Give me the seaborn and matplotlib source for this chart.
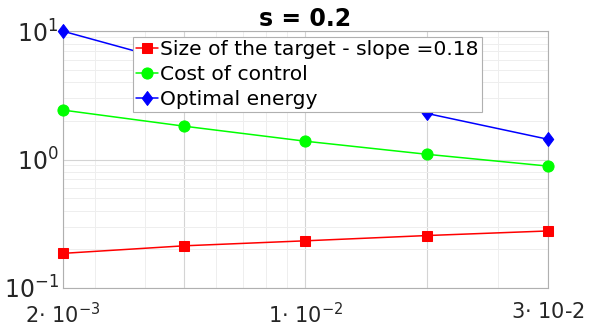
import numpy as np
import pandas as pd
import matplotlib
matplotlib.use('Agg')
import matplotlib.pyplot as plt
import seaborn as sns

# Data
h_values = [2.5e-3, 5e-3, 1e-2, 2e-2, 4e-2]
target_size = [0.186, 0.213, 0.233, 0.256, 0.278]
control_cost = [2.43, 1.82, 1.39, 1.10, 0.89]
optimal_energy = [10.0, 5.5, 3.5, 2.29, 1.44]

series_names = ['Size of the target - slope =0.18', 'Cost of control', 'Optimal energy']
xtick_labels = ['2$\\cdot$ 10$^{-3}$', '', '1$\\cdot$ 10$^{-2}$', '', '3$\\cdot$ 10-2']

sns.set_style('white')
plt.rcParams['font.family'] = ['DejaVu Sans']
plt.rcParams['mathtext.fontset'] = 'dejavusans'

fig = plt.figure(figsize=(6.04, 3.28), dpi=100)
ax = fig.add_axes([0.104, 0.122, 0.803, 0.783])

diamond = [(0, 1), (0.75, 0), (0, -1), (-0.75, 0), (0, 1)]
styles = [
    (target_size, 'red', 's', 6.5),
    (control_cost, '#00ff00', 'o', 8),
    (optimal_energy, 'blue', diamond, 10),
]
for name, (vals, col, mk, ms) in zip(series_names, styles):
    sns.lineplot(x=h_values, y=vals, ax=ax, color=col, marker=mk, markersize=ms,
                 markeredgecolor=col, linewidth=1.1, label=name, clip_on=False, zorder=3)

ax.set_xscale('log')
ax.set_yscale('log')
ax.set_xlim(h_values[0], h_values[-1])
ax.set_ylim(0.1, 10)

ax.set_xticks(h_values)
ax.set_xticklabels(xtick_labels)
ax.set_yticks([0.1, 1, 10])

ax.grid(True, which='major', color='#d4d4d4', linewidth=0.8)
ax.grid(True, which='minor', color='#eeeeee', linewidth=0.7)
ax.set_axisbelow(True)

for sp in ax.spines.values():
    sp.set_color('#b0b0b0')
    sp.set_linewidth(0.8)
ax.tick_params(which='both', direction='in', color='#b0b0b0', labelcolor='#262626')
ax.tick_params(axis='y', which='major', labelsize=17, length=4, pad=3)
ax.tick_params(axis='x', which='major', labelsize=15, length=4, pad=10)
ax.tick_params(which='minor', length=2)

ax.set_title('s = 0.2', fontsize=17, fontweight='bold', pad=4, color='black')

leg = ax.legend(loc='upper left', bbox_to_anchor=(133 / 604, 1 - 37 / 328),
                bbox_transform=fig.transFigure, fontsize=14.6, frameon=True,
                fancybox=False, framealpha=1, edgecolor='#b0b0b0',
                handlelength=1.1, handletextpad=0.1, borderpad=0.15,
                labelspacing=0.3, borderaxespad=0)
leg.get_frame().set_linewidth(0.8)
for t in leg.get_texts():
    t.set_color('black')

fig.savefig('out.png', dpi=100)
